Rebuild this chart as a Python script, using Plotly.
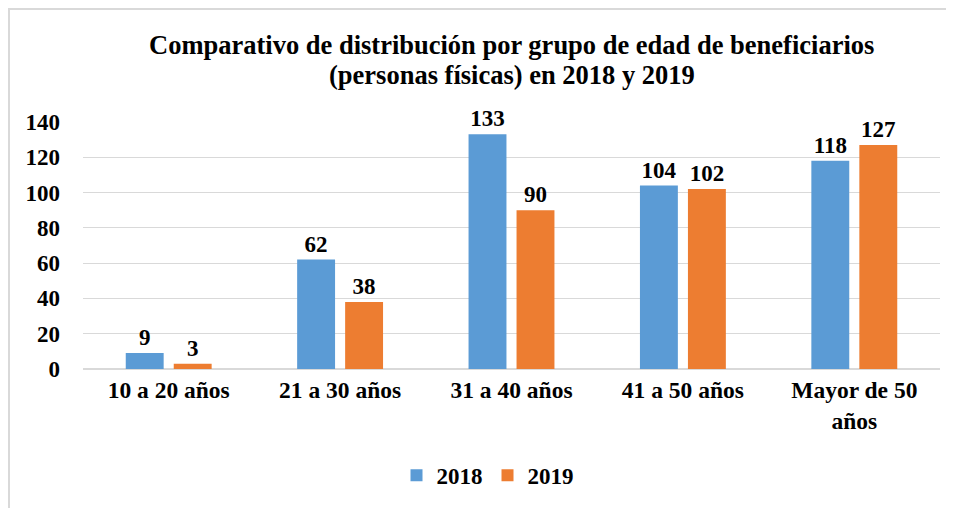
import plotly.graph_objects as go

categories = ["10 a 20 años", "21 a 30 años", "31 a 40 años", "41 a 50 años", "Mayor de 50<br>años"]
values_2018 = [9, 62, 133, 104, 118]
values_2019 = [3, 38, 90, 102, 127]
series_names = ["2018", "2019"]
y_ticks = [0, 20, 40, 60, 80, 100, 120, 140]
title_lines = ["Comparativo de distribución por grupo de edad de beneficiarios",
               "(personas físicas) en 2018 y 2019"]

FONT = "Liberation Serif"

def f(size):
    return dict(family=FONT, size=size, color="#000000", weight="bold")

fig = go.Figure()
fig.add_trace(go.Bar(
    x=categories, y=values_2018, name=series_names[0],
    marker=dict(color="#5B9BD5", line=dict(width=0)),
    text=values_2018, textposition="outside", cliponaxis=False,
    textfont=f(23),
))
fig.add_trace(go.Bar(
    x=categories, y=values_2019, name=series_names[1],
    marker=dict(color="#ED7D31", line=dict(width=0)),
    text=values_2019, textposition="outside", cliponaxis=False,
    textfont=f(23),
))

PLOT_H = 247
fig.update_layout(
    width=946, height=500,
    paper_bgcolor="white", plot_bgcolor="white",
    margin=dict(l=75, r=14, t=114, b=139, autoexpand=False),
    barmode="group", bargap=0.44, bargroupgap=0.21,
    font=f(20),
    annotations=[
        dict(text=title_lines[0], xref="paper", yref="paper", x=0.5, y=1 + 77 / PLOT_H,
             xanchor="center", yanchor="middle", showarrow=False, font=f(26.5)),
        dict(text=title_lines[1], xref="paper", yref="paper", x=0.5, y=1 + 47 / PLOT_H,
             xanchor="center", yanchor="middle", showarrow=False, font=f(26.5)),
    ],
    xaxis=dict(
        showgrid=False, showline=True, linecolor="#D9D9D9", linewidth=1,
        ticks="", tickfont=f(23.5),
    ),
    yaxis=dict(
        range=[0, 140], tickvals=y_ticks,
        showgrid=True, gridcolor="#D9D9D9", gridwidth=1,
        zeroline=True, zerolinecolor="#D9D9D9",
        showline=False, ticks="", ticklabelstandoff=22,
        tickfont=f(23),
    ),
    legend=dict(
        orientation="h", x=0.472, xanchor="center", y=-0.43, yanchor="middle",
        font=f(23), itemwidth=30,
    ),
    showlegend=True,
    shapes=[dict(
        type="rect", xref="paper", yref="paper",
        x0=-74 / 857, x1=1.1, y0=-0.7, y1=1 + 113 / PLOT_H,
        line=dict(color="#D9D9D9", width=2), fillcolor="rgba(0,0,0,0)",
        layer="below",
    )],
)

fig.write_html("out.html")
